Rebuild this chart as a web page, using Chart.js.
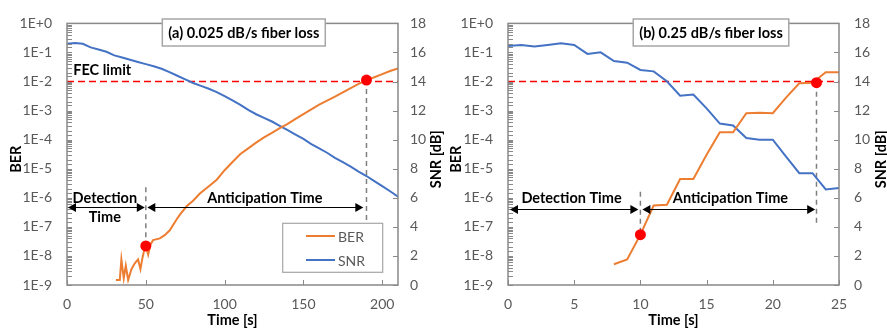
<!DOCTYPE html>
<html><head><meta charset="utf-8">
<script src="https://cdn.jsdelivr.net/npm/chart.js@4.4.1/dist/chart.umd.min.js"></script>
<style>
html,body{margin:0;padding:0;background:#fff;width:887px;height:331px;overflow:hidden}
canvas{position:absolute;top:0}
#ca{left:0}#cb{left:445px}
</style></head><body>
<canvas id="ca" width="445" height="331"></canvas>
<canvas id="cb" width="442" height="331"></canvas>
<script>
// ---------- data: panel (a) ----------
const berTimeA = [31,33.5,34.5,36,37.3,38.8,40.9,43,45.1,46.6,47.9,49,50,51.5,53,54.6,58.9,62,65.2,69.5,72,75.9,80,84.3,90,95,100,105,110,115,120,125,130,135,140,145,150,155,160,165,170,175,180,185,190,195,200,205,210];
const berA = [1.5e-9,1.5e-9,7.6e-9,1.7e-9,4.6e-9,1.5e-9,3.5e-9,5.6e-9,7.6e-9,3.5e-9,8.7e-9,1.6e-8,2.2e-8,1.1e-8,2.5e-8,3.5e-8,4.0e-8,5.2e-8,7.6e-8,1.8e-7,2.8e-7,5.1e-7,7.9e-7,1.4e-6,2.5e-6,4.2e-6,8.9e-6,1.7e-5,3.2e-5,5.0e-5,7.9e-5,1.2e-4,1.7e-4,2.5e-4,3.5e-4,5.2e-4,7.6e-4,1.1e-3,1.6e-3,2.2e-3,3.0e-3,4.2e-3,5.9e-3,8.3e-3,1.12e-2,1.4e-2,1.8e-2,2.3e-2,2.8e-2];
const snrTimeA = [0,5,10,15,20,25,30,35,40,45,50,55,60,65,70,75,80,85,90,95,100,105,110,115,120,125,130,135,140,145,150,155,160,165,170,175,180,185,190,195,200,205,210];
const snrA = [16.6,16.65,16.6,16.35,16.2,16.05,15.8,15.65,15.5,15.35,15.2,15.05,14.88,14.65,14.4,14.15,13.9,13.7,13.5,13.27,13.0,12.7,12.4,12.05,11.75,11.5,11.25,10.95,10.65,10.35,10.05,9.7,9.4,9.1,8.75,8.45,8.15,7.8,7.5,7.15,6.8,6.45,6.08];
const markersA = [{x:50,y:2.2e-8},{x:190,y:1.12e-2}];
const guidesA = [[{x:50,y:2.3e-6},{x:50,y:2.2e-8}],[{x:190,y:1.12e-2},{x:190,y:1.15e-7}]];
const xTicksA = [0,50,100,150,200];

// ---------- data: panel (b) ----------
const berTimeB = [8,9,10,11,12,13,14,15,16,17,18,19,20,21,22,23,24,25];
const berB = [5.2e-9,7.6e-9,5.4e-8,5.4e-7,5.8e-7,4.4e-6,4.4e-6,3.0e-5,1.8e-4,1.8e-4,8.1e-4,8.5e-4,8.1e-4,2.8e-3,8.7e-3,9.1e-3,2.1e-2,2.1e-2];
const snrTimeB = [0,1,2,3,4,5,6,7,8,9,10,11,12,13,14,15,16,17,18,19,20,21,22,23,24,25];
const snrB = [16.45,16.52,16.41,16.52,16.63,16.52,15.9,16.01,15.41,15.3,14.8,14.7,14.02,13.03,13.1,12.15,11.11,10.98,10.11,10.0,10.0,8.83,7.69,7.69,6.58,6.67];
const markersB = [{x:10,y:5.4e-8},{x:23.3,y:9.1e-3}];
const guidesB = [[{x:10,y:1.6e-6},{x:10,y:5.4e-8}],[{x:23.3,y:9.1e-3},{x:23.3,y:1.15e-7}]];
const xTicksB = [0,5,10,15,20,25];

// ---------- shared ----------
const fecLimit = 1e-2;
const berTickLabels = ['1E+0','1E-1','1E-2','1E-3','1E-4','1E-5','1E-6','1E-7','1E-8','1E-9'];
const snrTicks = [0,2,4,6,8,10,12,14,16,18];
const seriesNames = ['BER','SNR'];

const ORANGE='#ED7D31', BLUE='#4472C4', RED='#FF0000', GREY='#898989', TXT='#595959';
Chart.defaults.font.family = 'Lato, "Open Sans", sans-serif';

function pts(xs, ys){ return xs.map((x,i)=>({x:x,y:ys[i]})); }

const deco = {
  id:'deco',
  afterDraw(chart){
    const o = chart.options.plugins.deco;
    const ctx = chart.ctx, a = chart.chartArea;
    const xs = chart.scales.x, ys = chart.scales.y, y2 = chart.scales.y2;
    const X = v=>xs.getPixelForValue(v), Y = v=>ys.getPixelForValue(v);
    ctx.save();
    // plot frame
    ctx.strokeStyle = GREY; ctx.lineWidth = 1.5;
    ctx.strokeRect(a.left, a.top, a.right-a.left, a.bottom-a.top);
    // inner tick marks
    ctx.lineWidth = 1; ctx.beginPath();
    ys.ticks.forEach(t=>{const p=Math.round(Y(t.value))+0.5; ctx.moveTo(a.left,p); ctx.lineTo(a.left+5,p);});
    xs.ticks.forEach(t=>{const p=Math.round(X(t.value))+0.5; ctx.moveTo(p,a.bottom); ctx.lineTo(p,a.bottom-5);});
    y2.ticks.forEach(t=>{const p=Math.round(y2.getPixelForValue(t.value))+0.5; ctx.moveTo(a.right,p); ctx.lineTo(a.right-5,p);});
    ctx.stroke();
    // axis titles
    ctx.fillStyle = '#000'; ctx.font = 'bold 14.5px Lato'; ctx.textBaseline = 'middle'; ctx.textAlign = 'center';
    ctx.fillText('Time [s]', (a.left+a.right)/2, 320);
    [[o.berTitleX,'BER'],[436.7,'SNR [dB]']].forEach(([x,t])=>{
      ctx.save(); ctx.translate(x, (a.top+a.bottom)/2 + 5); ctx.rotate(-Math.PI/2); ctx.fillText(t,0,0); ctx.restore();
    });
    // title box
    const tw = ctx.measureText(o.title).width;
    const bw = tw + 12, bx = o.titleCx - bw/2;
    ctx.fillStyle = '#fff'; ctx.fillRect(bx, 19, bw, 27);
    ctx.strokeStyle = '#a6a6a6'; ctx.lineWidth = 1.5; ctx.strokeRect(bx, 19, bw, 27);
    ctx.fillStyle = '#000'; ctx.fillText(o.title, o.titleCx, 33.3);
    // labels
    o.labels.forEach(l=>{
      ctx.textAlign = l.align || 'center';
      ctx.fillText(l.text, X(l.x), Y(l.y));
    });
    // arrows
    ctx.strokeStyle = '#000'; ctx.fillStyle = '#000'; ctx.lineWidth = 1;
    o.arrows.forEach(ar=>{
      const x0 = X(ar.x0) + (ar.g0||0), x1 = X(ar.x1) - (ar.g1||0), y = Math.round(Y(ar.y))+0.5;
      ctx.beginPath(); ctx.moveTo(x0+4,y); ctx.lineTo(x1-4,y); ctx.stroke();
      const head=(tip,dir)=>{ctx.beginPath(); ctx.moveTo(tip,y); ctx.lineTo(tip-dir*8,y-4.5); ctx.lineTo(tip-dir*8,y+4.5); ctx.closePath(); ctx.fill();};
      head(x0,-1); head(x1,1);
    });
    // legend
    if (o.legend){
      const L = o.legend;
      ctx.fillStyle = '#fff'; ctx.fillRect(L.x, L.y, L.w, L.h);
      ctx.strokeStyle = '#a6a6a6'; ctx.lineWidth = 1.2; ctx.strokeRect(L.x, L.y, L.w, L.h);
      ctx.font = '14px Lato'; ctx.textAlign = 'left';
      [[ORANGE,seriesNames[0],236],[BLUE,seriesNames[1],260]].forEach(([c,t,yy])=>{
        ctx.strokeStyle = c; ctx.lineWidth = 2; ctx.beginPath(); ctx.moveTo(306,yy); ctx.lineTo(335,yy); ctx.stroke();
        ctx.fillStyle = TXT; ctx.fillText(t, 338, yy+1);
      });
    }
    ctx.restore();
  }
};

function makeChart(id, cfg){
  const ds = [
    {data: cfg.markers, showLine:false, pointRadius:5.5, pointBackgroundColor:RED, pointBorderWidth:0, yAxisID:'y', order:0},
    {data: pts(cfg.berT, cfg.ber), borderColor:ORANGE, borderWidth:2, pointRadius:0, yAxisID:'y', order:1},
    {data: pts(cfg.snrT, cfg.snr), borderColor:BLUE, borderWidth:2, pointRadius:0, yAxisID:'y2', order:2},
    {data: [{x:0,y:fecLimit},{x:cfg.xmax,y:fecLimit}], borderColor:RED, borderWidth:1.5, borderDash:[7,4], pointRadius:0, yAxisID:'y', order:3},
  ];
  cfg.guides.forEach(g=>ds.push({data:g, borderColor:'#7f7f7f', borderWidth:1.5, borderDash:[5,4], pointRadius:0, yAxisID:'y', order:4}));
  return new Chart(document.getElementById(id), {
    type:'line',
    data:{datasets:ds},
    options:{
      responsive:false, animation:false, events:[],
      layout:{padding:{top:13,left:0,right:0,bottom:0}},
      plugins:{legend:{display:false}, tooltip:{enabled:false}, deco:cfg.deco},
      scales:{
        x:{type:'linear', min:0, max:cfg.xmax, grid:{display:false,drawTicks:false}, border:{display:false},
           ticks:{color:TXT, font:{size:14}, padding:11, maxRotation:0, autoSkip:false},
           afterBuildTicks:s=>{s.ticks = cfg.xticks.map(v=>({value:v}));},
           afterFit:s=>{s.height=46;}},
        y:{type:'logarithmic', position:'left', min:1e-9, max:1, grid:{display:false,drawTicks:false}, border:{display:false},
           ticks:{color:TXT, font:{size:14}, padding:15, autoSkip:false,
             callback:v=>{const e=Math.log10(v); const r=Math.round(e); return Math.abs(e-r)<1e-6 ? berTickLabels[-r] : '';}},
           afterFit:s=>{s.width=cfg.leftW;}},
        y2:{type:'linear', position:'right', min:0, max:18, grid:{display:false,drawTicks:false}, border:{display:false},
           ticks:{color:TXT, font:{size:14}, padding:cfg.rightPad, autoSkip:false},
           afterBuildTicks:s=>{s.ticks = snrTicks.map(v=>({value:v}));},
           afterFit:s=>{s.width=cfg.rightW;}}
      }
    },
    plugins:[deco]
  });
}

makeChart('ca', {
  berT:berTimeA, ber:berA, snrT:snrTimeA, snr:snrA, markers:markersA, guides:guidesA,
  xmax:210, xticks:xTicksA, leftW:67, rightW:47, rightPad:12,
  deco:{
    title:'(a) 0.025 dB/s fiber loss', titleCx:243.8, berTitleX:16,
    labels:[{text:'FEC limit', x:4, y:2.5e-2, align:'left'},
            {text:'Detection', x:24, y:9.5e-7},{text:'Time', x:24, y:2.2e-7},
            {text:'Anticipation Time', x:125.5, y:9.5e-7}],
    arrows:[{x0:0,x1:50,y:4.7e-7,g0:1,g1:1},{x0:50,x1:188,y:4.7e-7,g0:1.5,g1:0}],
    legend:{x:282.7,y:223.3,w:100,h:49}
  }
});

makeChart('cb', {
  berT:berTimeB, ber:berB, snrT:snrTimeB, snr:snrB, markers:markersB, guides:guidesB,
  xmax:25, xticks:xTicksB, leftW:63, rightW:48, rightPad:15,
  deco:{
    title:'(b) 0.25 dB/s fiber loss', titleCx:266, berTitleX:11.7,
    labels:[{text:'Detection Time', x:4.8, y:9.5e-7},{text:'Anticipation Time', x:16.8, y:9.5e-7}],
    arrows:[{x0:0,x1:10,y:4.2e-7,g0:2,g1:2},{x0:10,x1:23.3,y:4.2e-7,g0:2,g1:1.3}],
    legend:null
  }
});
</script>
</body></html>
